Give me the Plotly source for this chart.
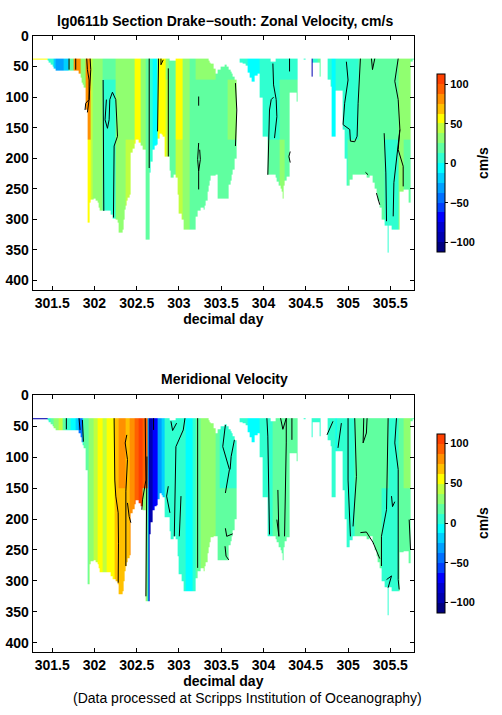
import plotly.graph_objects as go

N = None
# water column coverage: left edge of each column (day), top and bottom of data (m); ten per line
col_day = [301.257,301.443,301.462,301.482,301.502,301.522,301.542,301.818,301.834,301.850,
           301.865,301.877,301.897,301.925,301.941,301.957,301.996,302.016,302.036,302.052,
           302.063,302.194,302.210,302.253,302.270,302.285,302.332,302.345,302.352,302.365,
           302.379,302.395,302.411,302.431,302.450,302.470,302.490,302.520,302.549,302.575,
           302.601,302.648,302.668,302.688,302.712,302.735,302.751,302.767,302.790,302.806,
           302.834,302.885,302.895,302.905,302.937,302.964,302.980,302.996,303.036,303.051,
           303.194,303.221,303.261,303.289,303.305,303.320,303.335,303.348,303.364,303.379,
           303.410,303.439,303.458,303.498,303.538,303.565,303.589,303.605,303.620,303.636,
           303.656,303.676,303.684,303.723,303.755,303.794,303.814,303.834,303.854,303.893,
           303.933,303.953,303.992,304.043,304.079,304.142,304.160,304.182,304.200,304.217,
           304.229,304.241,304.255,304.269,304.308,304.387,304.399,304.478,304.494,304.565,
           304.585,304.636,304.660,304.676,304.763,304.791,304.802,304.810,304.850,304.937,
           304.960,304.988,305.020,305.059,305.217,305.257,305.289,305.315,305.336,305.355,
           305.375,305.395,305.435,305.466,305.478,305.514,305.565,305.613,305.652,305.711,
           305.739,305.763,305.783]
col_top = [37,37,37,37,37,37,37,37,37,37,
           37,37,37,37,37,37,37,37,37,37,
           37,37,37,37,37,37,37,37,37,37,
           37,37,37,37,37,37,37,37,37,37,
           37,37,37,37,37,37,37,37,37,37,
           37,40,40,40,40,37,37,37,37,37,
           37,37,37,37,37,37,37,40,43,45,
           53,61,55,50,47,50,55,58,62,66,
           72,75,N,37,37,37,37,37,37,37,
           37,37,37,37,42,37,37,37,37,37,
           37,37,37,37,37,37,N,37,N,37,
           37,37,37,N,37,37,37,37,37,37,
           37,37,37,37,37,37,37,37,37,37,
           37,37,37,37,37,37,37,37,37,37,
           37,37]
col_bottom = [39,40,43,47,50,53,56,62,68,76,
              80,85,121,305,273,268,266,269,273,280,
              286,292,298,300,306,322,316,300,284,277,
              270,264,259,191,184,176,170,175,180,186,
              333,224,205,186,180,178,168,159,162,165,
              197,210,220,232,227,232,260,290,300,316,
              295,285,280,284,277,270,255,245,237,229,
              228,227,266,266,266,266,243,236,227,218,
              200,180,N,44,45,48,60,68,75,65,
              62,100,165,227,227,232,238,245,250,255,
              266,245,236,230,93,107,N,39,N,67,
              44,44,66,N,72,82,208,165,90,153,
              200,245,235,227,232,228,240,250,260,270,
              280,300,310,355,310,316,316,254,252,272,
              42,39]

depth_ticks = [0,50,100,150,200,250,300,350,400]
day_ticks = [301.5,302,302.5,303,303.5,304,304.5,305,305.5]
day_labels = ["301.5","302","302.5","303","303.5","304","304.5","305","305.5"]
cbar_ticks = [-100,-50,0,50,100]
cbar_labels = ["\u2212100","\u221250","0","50","100"]

# zonal velocity, stripes: right edge (day), value in upper / middle / deep layer
u_layers = [37,72,170,420]
u_edge = [301.443,301.522,301.542,301.640,301.700,301.759,301.838,301.897,301.949,301.984,302.095,302.253,302.372,302.478,302.549,302.601,302.656,302.688,302.747,302.846,302.874,302.964,303.043,303.123,303.202,303.261,303.439,303.577,303.684,303.814,303.953,304.190,304.249,304.399,304.565,304.585,304.636,304.676,304.763,304.802,304.854,304.941,305.000,305.119,305.395,305.435,305.593,305.652,305.739,305.783]
u_up  = [55,5,-15,-28,-15,18,80,35,75,40,30,18,30,35,55,35,18,5,-5,55,30,18,55,35,18,30,30,18,18,5,-5,5,5,5,5,-90,5,18,5,5,-5,5,5,5,18,18,18,25,30,18]
u_mid = [55,5,-15,-28,-15,18,80,35,75,40,30,5,30,35,55,35,18,5,-5,55,40,18,55,30,18,18,18,18,25,5,-5,5,18,18,5,-90,5,18,5,5,-5,5,5,5,18,18,18,25,30,18]
u_low = [55,5,-15,-28,-15,18,80,35,55,40,30,5,30,40,55,35,18,5,-5,55,40,18,45,35,18,18,18,18,18,5,-5,18,25,18,5,-90,5,18,5,5,-5,5,5,18,18,18,5,25,18,18]

# meridional velocity, stripes: right edge (day), value in upper / deep layer
v_layers = [37,150,420]
v_edge = [301.443,301.482,301.522,301.581,301.621,301.660,301.719,301.779,301.818,301.858,301.877,301.937,301.996,302.036,302.095,302.142,302.233,302.281,302.372,302.419,302.478,302.518,302.569,302.625,302.644,302.692,302.751,302.790,302.830,303.083,303.162,303.202,303.261,303.439,303.478,303.684,303.814,303.953,304.111,304.399,304.854,304.870,305.079,305.395,305.474,305.593,305.652,305.739,305.783]
v_up  = [-90,5,18,35,40,20,5,-5,-20,-40,5,20,30,40,55,45,55,65,80,68,80,92,105,90,-15,-95,-75,-35,-15,5,-5,5,20,30,18,5,5,-5,5,18,5,-5,5,18,18,5,18,30,18]
v_low = [-90,5,18,35,40,20,5,-5,-20,-40,5,20,30,40,55,45,55,65,70,68,80,92,105,35,-15,-95,-75,-35,-15,5,-5,5,20,30,18,18,5,-5,5,18,5,-5,5,18,5,5,18,18,18]

# contour traces (None breaks a line)
u_line_day = [301.700,301.700,N,301.779,301.779,N,301.909,301.917,301.937,301.937,301.897,301.889,N,301.949,301.957,301.945,301.937,301.917,N,302.103,302.111,N,302.142,302.126,302.154,302.174,302.182,302.213,302.253,302.273,302.233,302.225,N,302.648,302.648,N,302.759,302.747,N,302.787,302.787,302.814,N,302.874,302.874,N,303.233,303.233,N,303.233,303.221,303.233,303.253,303.245,N,303.233,303.233,N,303.668,303.684,303.668,N,304.111,304.119,304.150,304.158,304.130,N,304.119,304.091,304.071,304.051,N,304.308,304.308,N,304.316,304.300,304.316,N,304.980,305.000,304.960,304.941,305.020,305.028,305.079,305.107,305.119,305.146,N,305.277,305.289,305.316,N,305.206,305.237,N,305.593,305.553,305.593,305.613,305.593,305.652,305.652,N,305.427,305.447,305.455,N,305.534,305.542,305.613,N,305.336,305.375]
u_line_depth = [37,55,N,37,55,N,37,55,72,104,110,121,N,37,55,83,104,125,N,72,286,N,104,137,151,137,104,92,104,164,180,297,N,37,216,N,37,156,N,37,47,39,N,53,197,N,99,114,N,175,202,221,202,186,N,221,251,N,77,121,180,N,45,80,104,132,167,N,100,104,121,227,N,37,58,N,189,197,207,N,42,72,110,145,153,172,173,164,110,37,N,37,55,37,N,223,227,N,37,74,104,153,186,213,246,N,159,224,303,N,295,240,153,N,257,276]

v_line_day = [301.668,301.668,N,301.818,301.830,N,301.858,301.870,N,302.233,302.241,302.253,302.281,302.285,302.281,N,302.383,302.364,302.391,302.379,302.372,302.372,N,302.391,302.411,302.431,N,302.601,302.609,302.569,302.561,N,302.621,302.609,N,302.700,302.700,N,302.905,302.925,302.972,N,303.071,303.051,302.964,302.945,N,302.874,302.854,302.893,N,303.221,303.221,N,303.024,303.004,N,303.549,303.518,303.597,303.549,N,303.656,303.617,303.605,N,303.549,303.565,303.636,N,303.545,303.557,303.589,N,304.040,304.051,304.071,N,304.202,304.229,304.269,N,304.269,304.269,304.249,N,304.170,304.182,304.158,N,304.336,304.336,N,304.751,304.822,N,304.921,304.881,N,305.000,305.000,305.028,N,305.079,305.099,305.059,N,305.186,305.178,305.217,305.225,N,305.474,305.466,305.455,305.395,305.395,N,305.573,305.553,305.593,305.593,305.605,N,305.514,305.526,305.553,N,305.723,305.739,N,305.455,305.514,305.474,N,305.146,305.217,305.296,305.375]
v_line_depth = [37,55,N,37,56,N,40,75,N,37,137,163,190,239,303,N,64,77,104,137,155,276,N,174,196,206,N,37,137,169,185,N,99,325,N,37,56,N,42,57,45,N,37,56,83,228,N,147,163,190,N,37,279,N,163,228,N,48,83,120,158,N,72,99,120,N,215,228,224,N,244,260,266,N,37,66,225,N,37,55,37,N,37,77,228,N,153,228,201,N,37,72,N,64,42,N,45,85,N,37,137,228,N,37,131,212,N,37,77,61,37,N,37,126,185,228,276,N,37,77,120,298,314,N,163,180,172,N,201,249,N,298,292,311,N,222,221,238,264]

jet_steps = ["#000080","#0000b0","#0000d0","#0000ff","#0040ff","#0070ff","#00a0ff","#00d0ff","#00ffff",
             "#30ffd0","#60ffa0","#90ff70","#c0ff40","#ffff00","#ffc000","#ff9000","#ff6000","#ff4000"]
vmin, vmax = -112.5, 112.5

colorscale = []
for i, c in enumerate(jet_steps):
    colorscale += [[i / len(jet_steps), c], [(i + 1) / len(jet_steps), c]]


def grid(edges, rows, layers):
    xs = sorted(set(col_day) | set(edges))
    ys = sorted(set(layers) | {t for t in col_top if t} | {b for b in col_bottom if b})
    z = []
    for j in range(len(ys) - 1):
        y0, y1 = ys[j], ys[j + 1]
        layer = 0
        while layer < len(layers) - 2 and y0 >= layers[layer + 1]:
            layer += 1
        row = []
        for i in range(len(xs) - 1):
            x0 = xs[i]
            c = max(k for k in range(len(col_day) - 1) if col_day[k] <= x0)
            s = min(k for k in range(len(edges)) if edges[k] > x0)
            if col_top[c] is None or y0 < col_top[c] or y1 > col_bottom[c]:
                row.append(None)
            else:
                row.append(rows[layer][s])
        z.append(row)
    return xs, ys, z


W, H = 502, 715
L, R = 32.7, 414.0
BOLD = "Liberation Sans"
panels = [
    dict(x="x", y="y", xa="xaxis", ya="yaxis", top=36.0, bot=290.0, edges=u_edge, rows=[u_up, u_mid, u_low], layers=u_layers,
         lx=u_line_day, ly=u_line_depth, cb0=74.3, cb1=252.3),
    dict(x="x2", y="y2", xa="xaxis2", ya="yaxis2", top=395.3, bot=652.3, edges=v_edge, rows=[v_up, v_low], layers=v_layers,
         lx=v_line_day, ly=v_line_depth, cb0=433.5, cb1=612.5),
]

fig = go.Figure()
for p in panels:
    xs, ys, z = grid(p["edges"], p["rows"], p["layers"])
    fig.add_trace(go.Heatmap(
        x=xs, y=ys, z=z, xaxis=p["x"], yaxis=p["y"], colorscale=colorscale, zmin=vmin, zmax=vmax,
        hoverongaps=False, showscale=True,
        colorbar=dict(
            len=(p["cb1"] - p["cb0"]) / H, lenmode="fraction", y=1 - p["cb1"] / H, yanchor="bottom",
            x=437.0 / W, xanchor="left", thickness=8, thicknessmode="pixels", xpad=0, ypad=0,
            outlinecolor="black", outlinewidth=1, ticks="outside", ticklen=3, tickcolor="black",
            tickvals=cbar_ticks, ticktext=cbar_labels,
            tickfont=dict(family=BOLD, size=11, color="black", weight="bold"),
        ),
    ))
    fig.add_trace(go.Scatter(x=p["lx"], y=p["ly"], xaxis=p["x"], yaxis=p["y"], mode="lines",
                             line=dict(color="black", width=1), showlegend=False, hoverinfo="skip",
                             connectgaps=False))
    axis_common = dict(showgrid=False, zeroline=False, showline=True, linecolor="black", linewidth=1,
                       mirror="ticks", ticks="inside", ticklen=4, tickcolor="black", tickwidth=1,
                       tickfont=dict(family=BOLD, size=14, color="black", weight="bold"))
    fig.update_layout({
        p["xa"]: dict(domain=[L / W, R / W], range=[301.27, 305.78], tickvals=day_ticks, ticktext=day_labels,
                      anchor=p["y"], title=dict(text="decimal day", standoff=4,
                                                font=dict(family=BOLD, size=14, color="black", weight="bold")),
                      **axis_common),
        p["ya"]: dict(domain=[1 - p["bot"] / H, 1 - p["top"] / H], range=[415.5, 0], tickvals=depth_ticks,
                      ticktext=[str(t) for t in depth_ticks], anchor=p["x"], **axis_common),
    })


def note(text, px, py, bold=True, **kw):
    font = dict(family=BOLD, size=14, color="black")
    if bold:
        font["weight"] = "bold"
    return dict(text=text, x=px / W, y=1 - py / H, xref="paper", yref="paper", xanchor="center", yanchor="middle",
                showarrow=False, font=font, **kw)


fig.update_layout(
    width=W, height=H, margin=dict(l=0, r=0, t=0, b=0, autoexpand=False), paper_bgcolor="white", plot_bgcolor="white",
    showlegend=False,
    annotations=[
        note("lg0611b Section Drake\u2212south: Zonal Velocity, cm/s", 225, 21),
        note("Meridional Velocity", 224, 379),
        note("(Data processed at Scripps Institution of Oceanography)", 247, 698, bold=False),
        note("cm/s", 483, 163, textangle=-90),
        note("cm/s", 483, 523, textangle=-90),
    ],
)
fig.write_html("out.html", config={"displayModeBar": False},
               post_script="document.body.style.margin='0';var g=document.querySelector('.plotly-graph-div');"
                           "g.style.position='absolute';g.style.left='0';g.style.top='0';")
